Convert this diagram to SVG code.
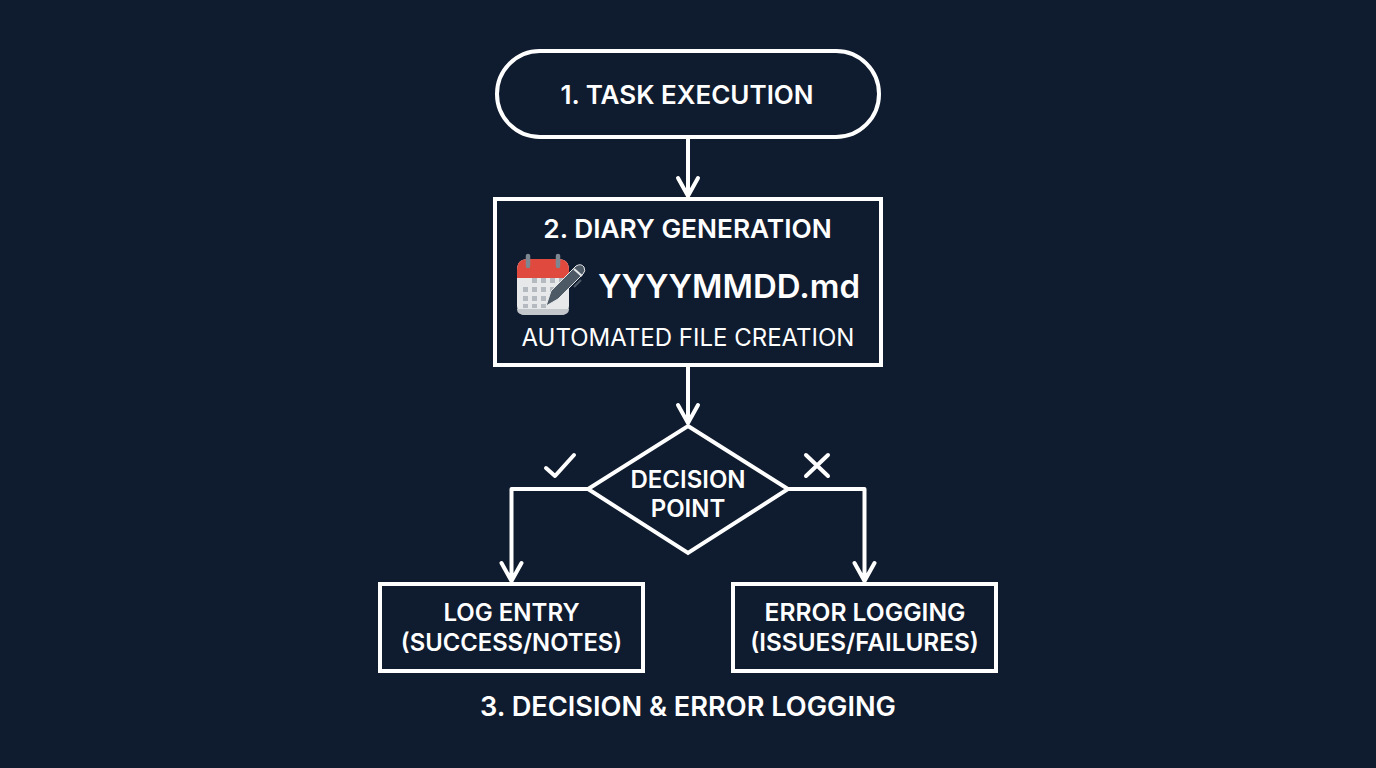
<svg xmlns="http://www.w3.org/2000/svg" width="1376" height="768" viewBox="0 0 1376 768">
<style>
.s{fill:none;stroke:#fff;stroke-width:4;stroke-linejoin:miter}
.c{fill:none;stroke:#fff;stroke-width:4;stroke-linecap:round;stroke-linejoin:round}
text{font-family:Inter,"Noto Sans","Liberation Sans",sans-serif;fill:#fff;text-anchor:middle}
.b{font-weight:600;font-size:26px}
.m{font-weight:600;font-size:24px}
</style>
<rect width="1376" height="768" fill="#0f1b2e"/>
<g id="connectors">
<path class="c" d="M688 139V196M678 178L688 196L698 178"/>
<path class="c" d="M688 366V423M678 405L688 423L698 405"/>
<path class="c" d="M588 489H511.500V581M501.500 563L511.500 581L521.500 563"/>
<path class="c" d="M788 489H864.500V581M854.500 563L864.500 581L874.500 563"/>
</g>
<g id="node1"><rect class="s" x="497" y="51" width="382" height="86" rx="43"/><text class="b" x="687" y="104">1. TASK EXECUTION</text></g>
<g id="node2"><rect class="s" x="495" y="199" width="386" height="166"/><text class="b" x="687.500" y="238" style="font-size:26.300px">2. DIARY GENERATION</text>
<g id="icon">
<path d="M517 270Q517 259 528 259H558Q569 259 569 270V306Q569 315 560 315H526Q517 315 517 306Z" fill="#e6e8ea"/>
<path d="M517 278V270Q517 259 528 259H558Q569 259 569 270V278Z" fill="#e04a3e"/>
<path d="M517 309H569Q569 315 560 315H526Q517 315 517 309Z" fill="#c3c7cc"/>
<path d="M528 256V266M558 256V266" stroke="#7d8791" stroke-width="4.500" stroke-linecap="round" fill="none"/>
<path d="M532 278h5v5h-5zM541 278h5v5h-5zM550 278h5v5h-5zM559 278h5v5h-5zM523 287h5v5h-5zM532 287h5v5h-5zM541 287h5v5h-5zM550 287h5v5h-5zM523 296h5v5h-5zM532 296h5v5h-5zM541 296h5v5h-5zM550 296h5v5h-5zM523 304h5v4h-5zM532 304h5v4h-5zM541 304h5v4h-5z" fill="#b5bac0"/>
<path d="M546 306L551 291L576 266Q581 263 584 267Q586 271 583 274L558 299Z" fill="#4d5a66" stroke="#e6e8ea" stroke-width="1"/>
<path d="M574 269L582 276" stroke="#e6e8ea" stroke-width="2" fill="none"/>
<path d="M581 280L574 287" stroke="#4d5a66" stroke-width="2" fill="none"/>
</g>
<text x="729" y="298" font-size="33" font-weight="600">YYYYMMDD.md</text><text x="688" y="346" font-size="24">AUTOMATED FILE CREATION</text></g>
<g id="decision"><path class="s" d="M688 426L788 489L688 553L588 489Z"/><text class="m" x="688" y="488">DECISION</text><text class="m" x="688" y="517">POINT</text></g>
<g id="check"><path class="c" d="M546 468L555 476L574 455"/></g>
<g id="cross"><path class="c" d="M806 455L828 476M828 455L806 476"/></g>
<g id="log"><rect class="s" x="380" y="584" width="263" height="87"/><text class="m" x="511.500" y="621">LOG ENTRY</text><text class="m" x="511.500" y="651" style="font-size:23.800px">(SUCCESS/NOTES)</text></g>
<g id="err"><rect class="s" x="733" y="584" width="263" height="87"/><text class="m" x="865" y="621" style="font-size:24.600px">ERROR LOGGING</text><text class="m" x="864.500" y="651" style="font-size:24.300px">(ISSUES/FAILURES)</text></g>
<text class="b" x="688" y="716" style="font-size:27.200px">3. DECISION &amp; ERROR LOGGING</text>
</svg>
